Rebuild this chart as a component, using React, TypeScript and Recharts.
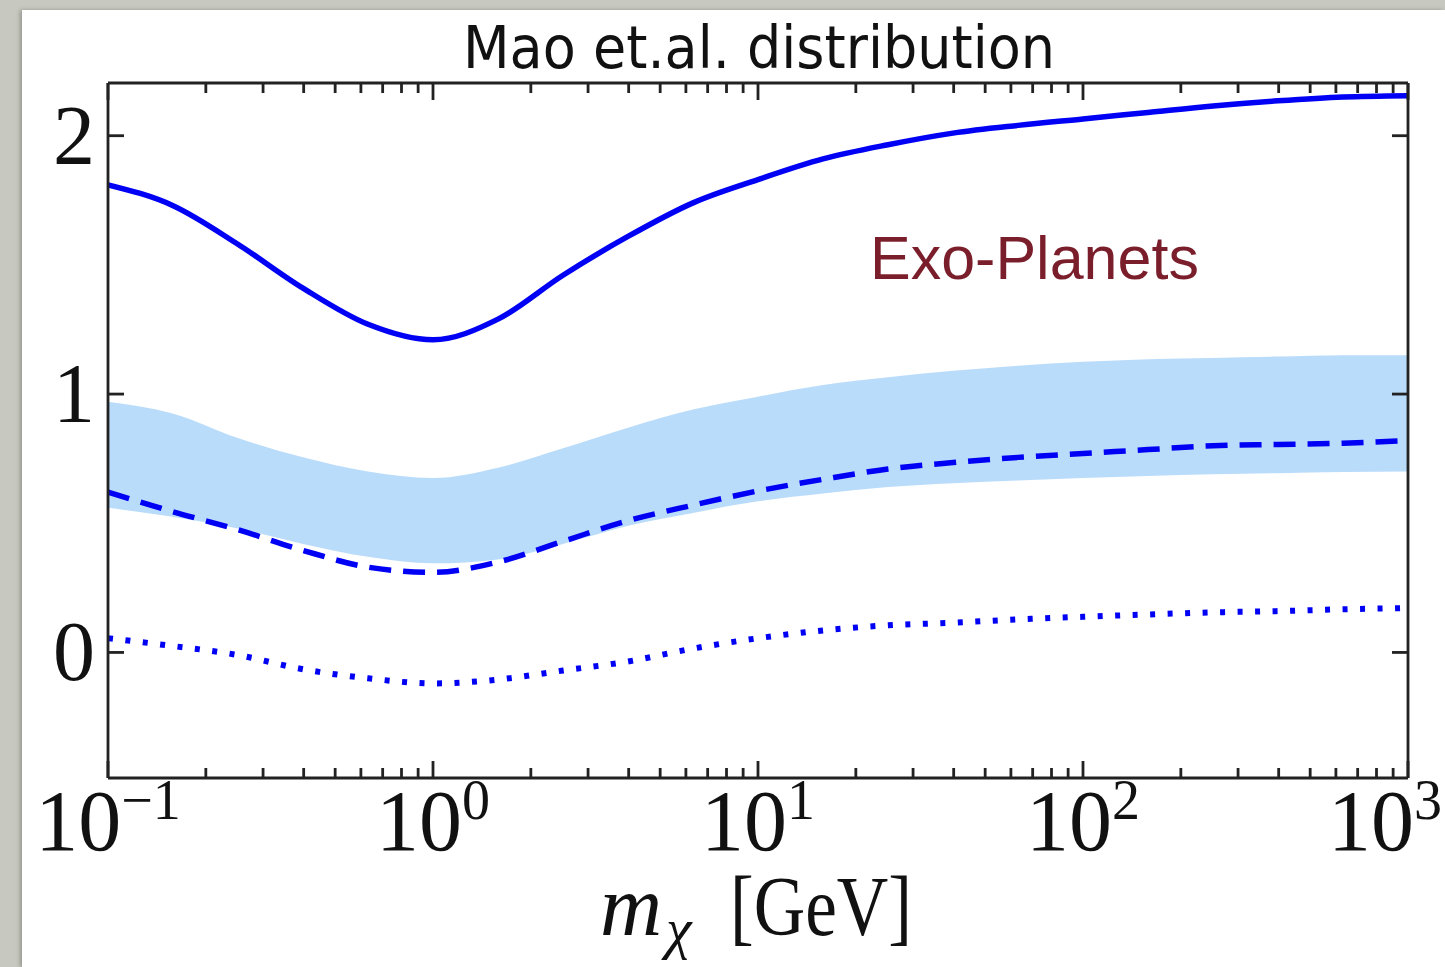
import React from 'react';
import { ComposedChart, Area, Line, XAxis, YAxis } from 'recharts';

// m_chi grid in GeV (log spaced)
const MASS = [0.1, 0.158, 0.251, 0.398, 0.631, 1, 1.585, 2.512, 3.981, 6.31, 10, 15.85, 25.12, 39.81, 63.1, 100, 158.5, 251.2, 398.1, 631, 1000];

// solid upper curve
const SOLID = [1.81, 1.73, 1.58, 1.41, 1.27, 1.21, 1.29, 1.46, 1.61, 1.74, 1.83, 1.91, 1.965, 2.01, 2.04, 2.065, 2.09, 2.115, 2.135, 2.15, 2.155];
// dashed curve
const DASHED = [0.62, 0.545, 0.475, 0.395, 0.33, 0.31, 0.35, 0.43, 0.51, 0.57, 0.625, 0.67, 0.71, 0.735, 0.755, 0.77, 0.785, 0.8, 0.805, 0.81, 0.82];
// dotted curve
const DOTTED = [0.055, 0.025, -0.01, -0.065, -0.1, -0.12, -0.105, -0.07, -0.035, 0.015, 0.055, 0.085, 0.105, 0.115, 0.128, 0.138, 0.147, 0.155, 0.16, 0.167, 0.172];
// light blue band
const BAND_LO = [0.56, 0.525, 0.48, 0.42, 0.37, 0.345, 0.36, 0.42, 0.49, 0.54, 0.585, 0.615, 0.64, 0.655, 0.665, 0.675, 0.683, 0.69, 0.694, 0.698, 0.7];
const BAND_HI = [0.97, 0.925, 0.83, 0.755, 0.7, 0.675, 0.715, 0.79, 0.87, 0.94, 0.99, 1.035, 1.065, 1.09, 1.11, 1.125, 1.135, 1.14, 1.145, 1.15, 1.15];

const MAJOR_TICKS = [0.1, 1, 10, 100, 1000];
const MAJOR_LABELS = ['−1', '0', '1', '2', '3'];
const MINOR_TICKS = [
  0.2, 0.3, 0.4, 0.5, 0.6, 0.7, 0.8, 0.9,
  2, 3, 4, 5, 6, 7, 8, 9,
  20, 30, 40, 50, 60, 70, 80, 90,
  200, 300, 400, 500, 600, 700, 800, 900,
];
const Y_TICKS = [0, 1, 2];

const rows = MASS.map((m, i) => ({
  m,
  solid: SOLID[i],
  dashed: DASHED[i],
  dotted: DOTTED[i],
  band: [BAND_LO[i], BAND_HI[i]],
}));

const INK = '#222';
const BLUE = '#0000f5';
const SERIF = '"Liberation Serif", "DejaVu Serif", serif';

const BottomTick = (props: any) => {
  const { x, y, payload } = props;
  const idx = MAJOR_TICKS.indexOf(payload.value);
  const major = idx >= 0;
  // last label would run past the window edge, so pin its right side inside
  const last = idx === MAJOR_TICKS.length - 1;
  return (
    <g>
      <line x1={x} x2={x} y1={y} y2={y - (major ? 17 : 10)} stroke={INK} strokeWidth={2.8} />
      {major && (
        <text x={last ? 1442 : x} y={y + 72} textAnchor={last ? 'end' : 'middle'} fontFamily={SERIF} fontSize={86} fill="#111">
          10
          <tspan dy={-31} fontSize={56}>{MAJOR_LABELS[idx]}</tspan>
        </text>
      )}
    </g>
  );
};

const TopTick = (props: any) => {
  const { x, y, payload } = props;
  const major = MAJOR_TICKS.includes(payload.value);
  return <line x1={x} x2={x} y1={y} y2={y + (major ? 17 : 10)} stroke={INK} strokeWidth={2.8} />;
};

const LeftTick = (props: any) => {
  const { x, y, payload } = props;
  return (
    <g>
      <line x1={x} x2={x + 16} y1={y} y2={y} stroke={INK} strokeWidth={2.8} />
      <text x={x - 13} y={y + 28} textAnchor="end" fontFamily={SERIF} fontSize={84} fill="#111">
        {payload.value}
      </text>
    </g>
  );
};

const RightTick = (props: any) => {
  const { x, y } = props;
  return <line x1={x} x2={x - 16} y1={y} y2={y} stroke={INK} strokeWidth={2.8} />;
};

const allTicks = [...MAJOR_TICKS, ...MINOR_TICKS].sort((a, b) => a - b);

const App = () => {
  return (
    <div style={{ position: 'absolute', left: 0, top: 0, width: 1445, height: 967, background: '#c7c8bf', overflow: 'hidden' }}>
      <div style={{ position: 'absolute', left: 22, top: 10, width: 1423, height: 957, background: '#fff', boxShadow: '-2px 0 4px rgba(0,0,0,0.25)' }} />
      <div style={{ position: 'absolute', left: 0, top: 0 }}>
        <ComposedChart width={1445} height={967} data={rows} margin={{ top: 0, right: 0, bottom: 0, left: 0 }}>
          <XAxis
            dataKey="m"
            type="number"
            scale="log"
            domain={[0.1, 1000]}
            allowDataOverflow
            ticks={allTicks}
            interval={0}
            height={189}
            tickSize={0}
            tickMargin={0}
            tick={<BottomTick />}
            axisLine={{ stroke: INK, strokeWidth: 2.8 }}
          />
          <XAxis
            xAxisId="top"
            orientation="top"
            dataKey="m"
            type="number"
            scale="log"
            domain={[0.1, 1000]}
            allowDataOverflow
            ticks={allTicks}
            interval={0}
            height={83}
            tickSize={0}
            tickMargin={0}
            tick={<TopTick />}
            axisLine={{ stroke: INK, strokeWidth: 2.8 }}
          />
          <YAxis
            type="number"
            domain={[-0.486, 2.204]}
            allowDataOverflow
            ticks={Y_TICKS}
            interval={0}
            width={108}
            tickSize={0}
            tickMargin={0}
            tick={<LeftTick />}
            axisLine={{ stroke: INK, strokeWidth: 2.8 }}
          />
          <YAxis
            yAxisId="right"
            orientation="right"
            type="number"
            domain={[-0.486, 2.204]}
            allowDataOverflow
            ticks={Y_TICKS}
            interval={0}
            width={37}
            tickSize={0}
            tickMargin={0}
            tick={<RightTick />}
            axisLine={{ stroke: INK, strokeWidth: 2.8 }}
          />
          <Area dataKey="band" type="monotone" fill="#badcfb" fillOpacity={1} stroke="none" isAnimationActive={false} />
          <Line dataKey="solid" type="monotone" stroke={BLUE} strokeWidth={5.5} dot={false} isAnimationActive={false} />
          <Line dataKey="dashed" type="monotone" stroke={BLUE} strokeWidth={5.5} strokeDasharray="22 12" dot={false} isAnimationActive={false} />
          <Line dataKey="dotted" type="monotone" stroke={BLUE} strokeWidth={6} strokeDasharray="5 12.5" dot={false} isAnimationActive={false} />

          <text x={759} y={68} textAnchor="middle" fontFamily='"DejaVu Sans", sans-serif' fontSize={58} textLength={592} lengthAdjust="spacingAndGlyphs" fill="#111">
            Mao et.al. distribution
          </text>
          <text x={870} y={279} fontFamily='"Liberation Sans", Arial, sans-serif' fontSize={61} fill="#7a1e2b">
            Exo-Planets
          </text>
          <text x={600} y={935} fontFamily={SERIF} fontStyle="italic" fontSize={86} fill="#111">m</text>
          <text x={666} y={948} fontFamily={SERIF} fontStyle="italic" fontSize={58} fill="#111">χ</text>
          <text x={730} y={935} fontFamily={SERIF} fontSize={84} textLength={182} lengthAdjust="spacingAndGlyphs" fill="#111">[GeV]</text>
        </ComposedChart>
      </div>
    </div>
  );
};

export default App;
